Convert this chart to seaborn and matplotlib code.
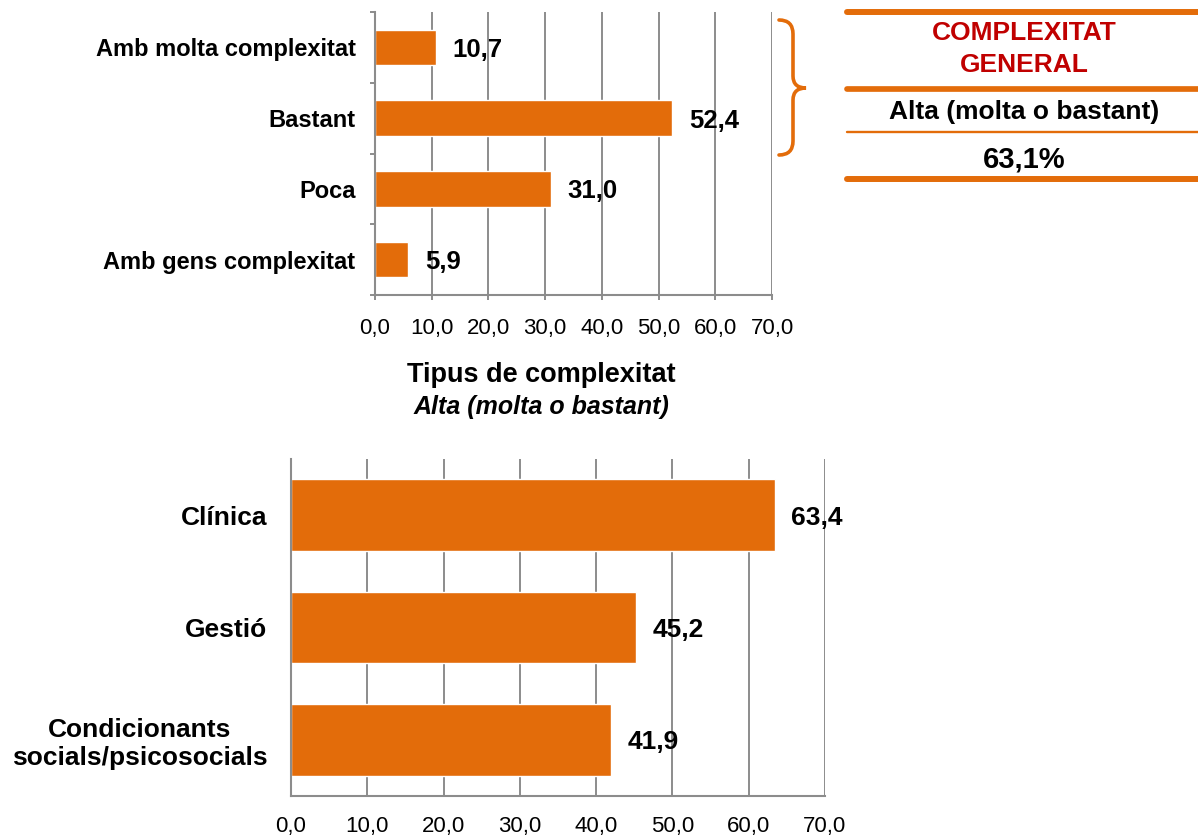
import matplotlib
matplotlib.use("Agg")
import matplotlib.pyplot as plt
from matplotlib.path import Path
from matplotlib.patches import PathPatch
from matplotlib.lines import Line2D
import pandas as pd
import seaborn as sns

# --- data -------------------------------------------------------------
nivells = ["Amb molta complexitat", "Bastant", "Poca", "Amb gens complexitat"]
pct_nivells = [10.7, 52.4, 31.0, 5.9]

tipus = ["Clínica", "Gestió", "Condicionants\nsocials/psicosocials"]
pct_tipus = [63.4, 45.2, 41.9]

x_ticks = [0, 10, 20, 30, 40, 50, 60, 70]

general_titol = "COMPLEXITAT\nGENERAL"
general_categoria = "Alta (molta o bastant)"
general_pct = 63.1

titol_tipus = "Tipus de complexitat"
subtitol_tipus = "Alta (molta o bastant)"

# --- style ------------------------------------------------------------
ORANGE = "#E36C0A"
RED = "#C00000"
GRID = "#8C8C8C"

sns.set_theme(style="white")
plt.rcParams["font.family"] = ["Liberation Sans", "DejaVu Sans"]
plt.rcParams["text.color"] = "black"
plt.rcParams["xtick.labelcolor"] = "black"
plt.rcParams["ytick.labelcolor"] = "black"

W, H = 1198, 838
fig = plt.figure(figsize=(W / 100, H / 100), dpi=100)


def fx(px):
    return px / W


def fy(py):
    return 1 - py / H


def coma(v, dec=1):
    return f"{v:.{dec}f}".replace(".", ",")


def style_axes(ax, xpad, xtick_len):
    ax.set_xlim(0, 70)
    ax.set_xticks(x_ticks)
    ax.set_xticklabels([coma(v) for v in x_ticks])
    ax.set_xlabel("")
    ax.set_ylabel("")
    for side in ("top", "right"):
        ax.spines[side].set_visible(False)
    for side in ("left", "bottom"):
        ax.spines[side].set_color(GRID)
        ax.spines[side].set_linewidth(1.5)
    ax.grid(axis="x", color=GRID, linewidth=1.4)
    ax.grid(axis="y", visible=False)
    ax.set_axisbelow(True)
    ax.tick_params(axis="x", which="major", bottom=True, length=xtick_len,
                   width=1.4, color=GRID, pad=xpad, labelsize=16,
                   labelcolor="black")


def value_labels(ax, values, size):
    texts = ax.bar_label(ax.containers[0], labels=[coma(v) for v in values],
                         padding=12, fontsize=size, fontweight="bold",
                         color="black")
    for t in texts:
        t.set_verticalalignment("center_baseline")


# --- top chart: general complexity -----------------------------------
df_niv = pd.DataFrame({"nivell": nivells, "pct": pct_nivells})
ax1 = fig.add_axes([fx(375), fy(295), fx(772 - 375), (295 - 12) / H])
sns.barplot(data=df_niv, x="pct", y="nivell", order=nivells, orient="h",
            color=ORANGE, saturation=1, width=0.5, ax=ax1)
style_axes(ax1, xpad=13, xtick_len=3.6)
ax1.set_yticks([i - 0.5 for i in range(len(nivells) + 1)], minor=True)
ax1.tick_params(axis="y", which="minor", left=True, length=3.6, width=1.4,
                color=GRID, direction="out")
ax1.tick_params(axis="y", which="major", left=False, length=0, pad=14,
                labelsize=17, labelcolor="black")
for lbl in ax1.get_yticklabels():
    lbl.set_fontweight("bold")
value_labels(ax1, pct_nivells, 18.5)

# --- bottom chart: complexity types ----------------------------------
df_tip = pd.DataFrame({"tipus": tipus, "pct": pct_tipus})
ax2 = fig.add_axes([fx(291), fy(796), fx(825 - 291), (796 - 459) / H])
sns.barplot(data=df_tip, x="pct", y="tipus", order=tipus, orient="h",
            color=ORANGE, saturation=1, width=0.64, ax=ax2)
style_axes(ax2, xpad=14.5, xtick_len=0)
ax2.tick_params(axis="y", which="major", left=False, length=0, pad=17,
                labelsize=19, labelcolor="black")
for lbl in ax2.get_yticklabels():
    lbl.set_fontweight("bold")
    lbl.set_multialignment("center")
value_labels(ax2, pct_tipus, 19)

fig.text(fx(541), fy(375), titol_tipus, ha="center", va="center",
         fontsize=19.5, fontweight="bold")
fig.text(fx(541), fy(407), subtitol_tipus, ha="center", va="center",
         fontsize=18, fontweight="bold", style="italic")

# --- summary box on the right ----------------------------------------
for y, lw in ((12, 4.3), (89, 4.1), (132, 1.7), (179, 4.3)):
    fig.add_artist(Line2D([fx(847), 1.0], [fy(y), fy(y)], color=ORANGE,
                          linewidth=lw, transform=fig.transFigure))

fig.text(fx(1024), fy(49), general_titol, ha="center", va="center",
         fontsize=19, fontweight="bold", color=RED, linespacing=1.47)
fig.text(fx(1024), fy(112), general_categoria, ha="center", va="center",
         fontsize=19, fontweight="bold")
fig.text(fx(1024), fy(160), f"{coma(general_pct)}%", ha="center",
         va="center", fontsize=21, fontweight="bold")

# curly brace grouping the two highest levels
brace_px = [(779, 20), (793, 20), (793, 34), (793, 76), (793, 88), (806, 88),
            (793, 88), (793, 100), (793, 141), (793, 155), (779, 155)]
codes = [Path.MOVETO, Path.CURVE3, Path.CURVE3, Path.LINETO, Path.CURVE3,
         Path.CURVE3, Path.CURVE3, Path.CURVE3, Path.LINETO, Path.CURVE3,
         Path.CURVE3]
brace = Path([(fx(x), fy(y)) for x, y in brace_px], codes)
fig.add_artist(PathPatch(brace, facecolor="none", edgecolor=ORANGE,
                         linewidth=2.6, capstyle="round",
                         transform=fig.transFigure))

fig.savefig("out.png", dpi=100)
